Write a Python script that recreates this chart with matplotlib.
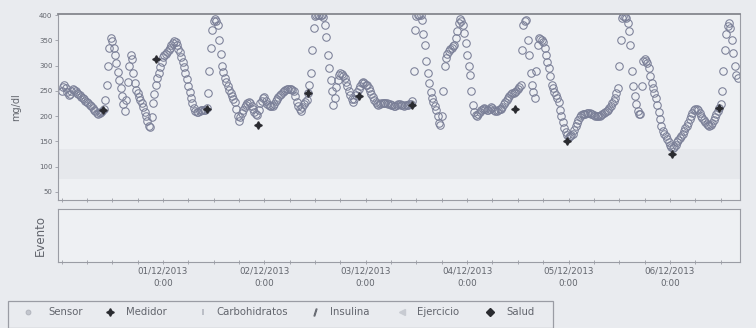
import matplotlib
matplotlib.use('Agg')
import matplotlib.pyplot as plt
import matplotlib.dates as mdates
from matplotlib.lines import Line2D
from matplotlib.patches import Rectangle
from matplotlib.ticker import FuncFormatter
import pandas as pd

# sensor glucose (mg/dl), one reading every 20 minutes starting 30/11/2013 0:00
sensor_30nov = [
    250, 258, 262, 256, 248, 242, 244, 250, 254, 252, 249, 246,
    244, 241, 238, 236, 233, 230, 228, 225, 222, 220, 216, 213,
    210, 207, 205, 206, 208, 211, 215, 232, 262, 300, 335, 354,
    348, 335, 320, 305, 288, 272, 255, 240, 224, 210, 232, 268,
    300, 320, 312, 286, 265, 252, 245, 238, 232, 226, 218, 208,
    200, 190, 180, 178, 198, 225, 244, 262, 275, 285, 298, 308,
]
sensor_01dic = [
    316, 320, 323, 326, 330, 335, 340, 345, 348, 346, 340, 333,
    326, 317, 308, 298, 286, 273, 260, 247, 235, 225, 216, 210,
    208, 209, 211, 212, 212, 213, 213, 216, 245, 290, 335, 370,
    388, 392, 388, 380, 350, 322, 300, 288, 276, 268, 260, 252,
    246, 240, 234, 228, 214, 200, 190, 198, 206, 212, 218, 222,
    225, 228, 226, 220, 214, 208, 205, 203, 212, 225, 230, 235,
]
sensor_02dic = [
    238, 230, 224, 222, 220, 219, 220, 224, 229, 234, 238, 241,
    244, 247, 250, 252, 253, 254, 254, 254, 252, 250, 240, 228,
    220, 214, 211, 218, 224, 228, 232, 245, 262, 285, 330, 375,
    398, 400, 400, 400, 400, 400, 396, 380, 356, 320, 296, 272,
    250, 222, 236, 258, 272, 282, 286, 284, 280, 276, 268, 260,
    250, 242, 234, 228, 234, 242, 248, 254, 260, 266, 268, 266,
]
sensor_03dic = [
    262, 261, 256, 250, 244, 238, 232, 227, 223, 221, 223, 225,
    226, 226, 226, 226, 224, 223, 222, 221, 220, 220, 222, 223,
    224, 222, 221, 220, 221, 222, 222, 223, 223, 230, 290, 370,
    398, 400, 400, 400, 390, 362, 340, 310, 285, 265, 248, 236,
    228, 220, 212, 200, 186, 182, 200, 250, 300, 314, 322, 328,
    332, 335, 338, 340, 355, 368, 385, 392, 388, 380, 365, 345,
]
sensor_04dic = [
    320, 300, 282, 250, 222, 208, 202, 200, 204, 208, 212, 215,
    216, 214, 212, 212, 215, 218, 216, 212, 210, 210, 212, 214,
    214, 218, 224, 228, 232, 236, 240, 243, 246, 246, 248, 250,
    254, 258, 262, 330, 380, 388, 390, 350, 320, 286, 262, 248,
    236, 290, 340, 354, 352, 350, 346, 334, 320, 308, 295, 280,
    262, 255, 248, 242, 236, 228, 212, 200, 188, 176, 168, 162,
]
sensor_05dic = [
    158, 160, 162, 164, 172, 180, 186, 192, 198, 202, 204, 205,
    205, 206, 206, 206, 205, 204, 203, 201, 200, 200, 201, 203,
    204, 206, 208, 210, 213, 216, 220, 225, 230, 236, 245, 256,
    300, 350, 394, 398, 396, 394, 385, 368, 340, 290, 260, 240,
    224, 210, 205, 204, 260, 310, 312, 310, 306, 296, 280, 265,
    256, 246, 236, 222, 208, 194, 180, 170, 164, 160, 154, 148,
]
sensor_06dic = [
    142, 138, 136, 138, 142, 148, 152, 156, 160, 164, 170, 176,
    180, 186, 194, 200, 206, 212, 214, 215, 212, 206, 200, 196,
    192, 188, 184, 182, 180, 182, 186, 192, 198, 204, 210, 216,
    224, 250, 290, 330, 362, 378, 384, 375, 350, 325, 300, 282,
    276,
]

# fingerstick meter readings
meter_times = [
    '2013-11-30 09:48', '2013-11-30 22:18', '2013-12-01 10:24', '2013-12-01 22:30',
    '2013-12-02 10:18', '2013-12-02 22:24', '2013-12-03 10:54', '2013-12-04 11:24',
    '2013-12-04 23:42', '2013-12-06 00:30', '2013-12-06 11:36',
]
meter_values = [212, 312, 214, 182, 246, 240, 222, 214, 150, 126, 216]

legend_labels = ['Sensor', 'Medidor', 'Carbohidratos', 'Insulina', 'Ejercicio', 'Salud']

sensor = (sensor_30nov + sensor_01dic + sensor_02dic + sensor_03dic
          + sensor_04dic + sensor_05dic + sensor_06dic)
sensor_times = pd.date_range('2013-11-30 00:00', periods=len(sensor), freq='20min')
meter_times = pd.to_datetime(meter_times)
first_label_day = pd.Timestamp('2013-12-01')

W, H = 756, 328
bg = '#e9ebef'
spine_col = '#9a9ca4'
text_col = '#62656d'

fig = plt.figure(figsize=(W / 100, H / 100), dpi=100, facecolor=bg)


def fig_box(left, top, right, bottom):
    return [left / W, 1 - bottom / H, (right - left) / W, (bottom - top) / H]


ax = fig.add_axes(fig_box(58, 14, 740, 200))
ax_ev = fig.add_axes(fig_box(58, 209, 740, 262), sharex=ax)

for a in (ax, ax_ev):
    a.set_facecolor('#eef0f3')
    for s in a.spines.values():
        s.set_color(spine_col)
        s.set_linewidth(0.8)
ax.spines['top'].set_color('#85878e')
ax.spines['top'].set_linewidth(1.3)

# low target band
ax.axhspan(75, 135, color='#e6e8ec', zorder=0, lw=0)

ax.plot(sensor_times, sensor, linestyle='none', marker='o', ms=5.4,
        mfc='none', mec='#7a7f97', mew=0.75, zorder=2)
ax.plot(meter_times, meter_values, linestyle='none', marker=(4, 1, 0), ms=5.5,
        color='#2a2b30', zorder=3)

ax.set_ylim(34, 402)
ax.set_yticks(range(50, 401, 50))
ax.tick_params(axis='y', labelsize=5, colors=spine_col, labelcolor=text_col, length=2.5, width=0.6, pad=1.5)
ax.set_ylabel('mg/dl', fontsize=7, color=text_col, labelpad=13)

ax.set_xlim(pd.Timestamp('2013-11-29 23:10'), pd.Timestamp('2013-12-06 16:35'))
ax.xaxis.set_major_locator(mdates.HourLocator(byhour=[0, 6, 12, 18]))


def day_label(x, pos):
    d = mdates.num2date(x).replace(tzinfo=None)
    if d.hour == 0 and d.minute == 0 and d >= first_label_day:
        return '{:%d/%m/%Y}\n0:00'.format(d)
    return ''


ax_ev.xaxis.set_major_formatter(FuncFormatter(day_label))
ax.tick_params(axis='x', labelbottom=False, direction='inout', length=3, width=0.6, colors=spine_col)
ax_ev.tick_params(axis='x', direction='inout', length=3, width=0.6, colors=spine_col,
                  labelcolor=text_col, labelsize=6.3, pad=2)
for lbl in ax_ev.get_xticklabels():
    lbl.set_linespacing(1.5)
ax_ev.set_yticks([])
ax_ev.set_ylabel('Evento', fontsize=8.5, color=text_col, labelpad=8)

# legend strip along the bottom
fig.add_artist(Rectangle((8 / W, 0.5 / H), 545 / W, 27 / H, transform=fig.transFigure,
                         fill=False, edgecolor=spine_col, lw=0.9))
legend_styles = [
    dict(marker='o', ms=3.5, mfc='#c3c6ce', mec='#aeb1ba', mew=0.6),
    dict(marker=(4, 1, 0), ms=5.5, color='#2a2b30'),
    dict(marker='|', ms=5, color='#b4b7c0', mew=1.2),
    dict(marker='$/$', ms=5, color='#6a6d75'),
    dict(marker='<', ms=4.5, color='#c8cbd2'),
    dict(marker='D', ms=3.8, color='#2a2b30'),
]
marker_x = [28, 110, 203, 315, 402, 490]
text_x = [48, 126, 216, 330, 417, 506]
ly = 1 - 312 / H
for label, style, mx, tx in zip(legend_labels, legend_styles, marker_x, text_x):
    fig.add_artist(Line2D([mx / W], [ly], transform=fig.transFigure, linestyle='none', **style))
    fig.text(tx / W, ly, label, fontsize=7.3, color=text_col, va='center', ha='left')

fig.savefig('out.png', dpi=100, facecolor=bg)
